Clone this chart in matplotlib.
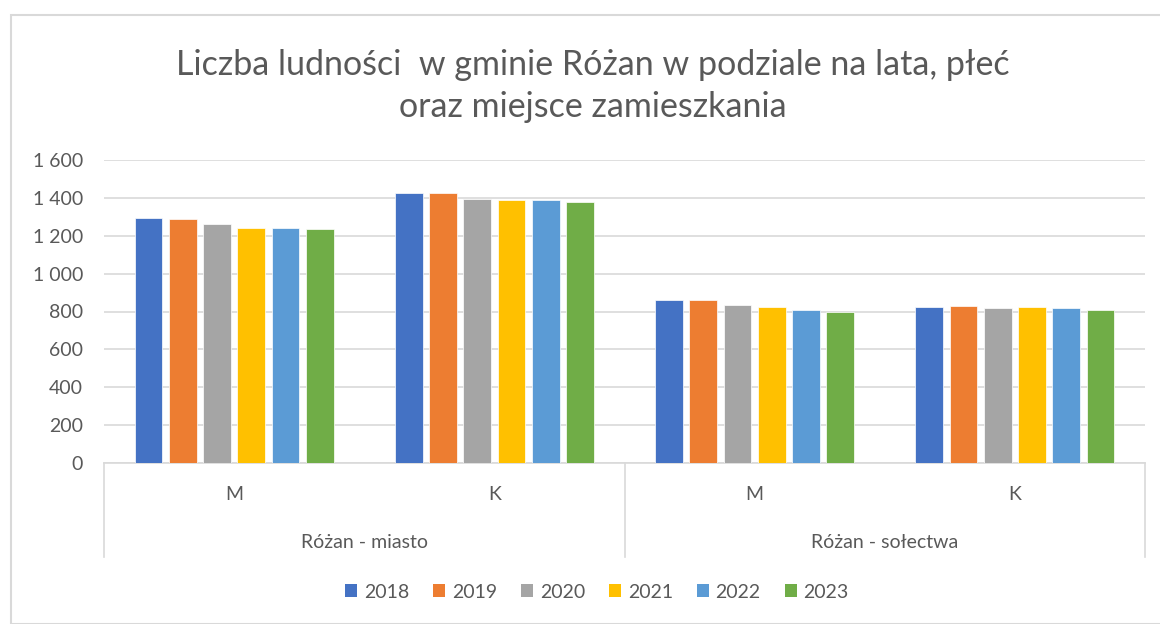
# liczba ludnosci w gminie Rozan - slupki pogrupowane, rok jako seria
import numpy as np
import matplotlib.pyplot as plt
from matplotlib.patches import Patch, Rectangle
from matplotlib.ticker import FuncFormatter

plt.rcParams['font.family'] = ['Lato', 'DejaVu Sans']

years = ['2018', '2019', '2020', '2021', '2022', '2023']
colors = ['#4472C4', '#ED7D31', '#A5A5A5', '#FFC000', '#5B9BD5', '#70AD47']

sex_labels = ['M', 'K', 'M', 'K']
place_labels = ['Różan - miasto', 'Różan - sołectwa']

# wartosci na kazdy rok, kolejnosc jak kategorie
miasto_m = [1292, 1287, 1260, 1240, 1240, 1235]
miasto_k = [1428, 1428, 1396, 1387, 1387, 1380]
solectwa_m = [863, 863, 836, 823, 810, 798]
solectwa_k = [823, 831, 817, 823, 817, 810]

vals = np.array([miasto_m, miasto_k, solectwa_m, solectwa_k])   # [kategoria, rok]

grey = '#595959'
grid_c = '#D9D9D9'
fs = 14

fig = plt.figure(figsize=(11.6, 6.24), dpi=100)
W, H = 1160, 624

# ramka wykresu jak w excelu
fig.patches.append(Rectangle((11/W, 0), 1.2, 1 - 15/H, transform=fig.transFigure,
                             fill=False, edgecolor=grid_c, linewidth=1.5))

ax = fig.add_axes([104/W, 1 - 463/H, (1145-104)/W, (463-160)/H])

x = np.arange(len(sex_labels))
slot = 0.1317
bw = 0.107
for i, yr in enumerate(years):
    ax.bar(x + (i - 2.5)*slot, vals[:, i], width=bw, color=colors[i],
           edgecolor='white', linewidth=0.5, zorder=3)

ax.set_xlim(-0.5, 3.5)
ax.set_ylim(0, 1600)
ax.set_yticks(np.arange(0, 1601, 200))
ax.yaxis.set_major_formatter(FuncFormatter(lambda v, p: f"{int(v):,}".replace(",", " ")))
ax.grid(axis='y', color=grid_c, linewidth=1.2, zorder=0)
ax.tick_params(axis='y', length=0, pad=15, labelsize=fs, labelcolor=grey)
ax.set_xticks([])
for s in ['top', 'right', 'left']:
    ax.spines[s].set_visible(False)
ax.spines['bottom'].set_color(grid_c)
ax.spines['bottom'].set_linewidth(1.2)

# osie wielopoziomowe
tr = ax.get_xaxis_transform()
hpx = 463 - 160
for xs in [-0.5, 1.5, 3.5]:
    ax.plot([xs, xs], [0, -(557-463)/hpx], transform=tr, color=grid_c,
            linewidth=1.2, clip_on=False)
for xi, lab in zip(x, sex_labels):
    ax.text(xi, -(495-463)/hpx, lab, transform=tr, ha='center', va='center',
            fontsize=fs, color=grey)
for xi, lab in zip([0.5, 2.5], place_labels):
    ax.text(xi, -(543-463)/hpx, lab, transform=tr, ha='center', va='center',
            fontsize=fs, color=grey)

fig.text(593/W, 1 - 86/H, "Liczba ludności  w gminie Różan w podziale na lata, płeć\noraz miejsce zamieszkania",
         ha='center', va='center', fontsize=24.5, color=grey, linespacing=1.35)

handles = [Patch(facecolor=c, edgecolor='none') for c in colors]
fig.legend(handles, years, loc='center', bbox_to_anchor=(597/W, 1 - 592/H), ncol=6,
           frameon=False, fontsize=fs, labelcolor=grey, handlelength=0.6,
           handleheight=0.6, handletextpad=0.35, columnspacing=1.25)

fig.savefig('out.png', dpi=100)
